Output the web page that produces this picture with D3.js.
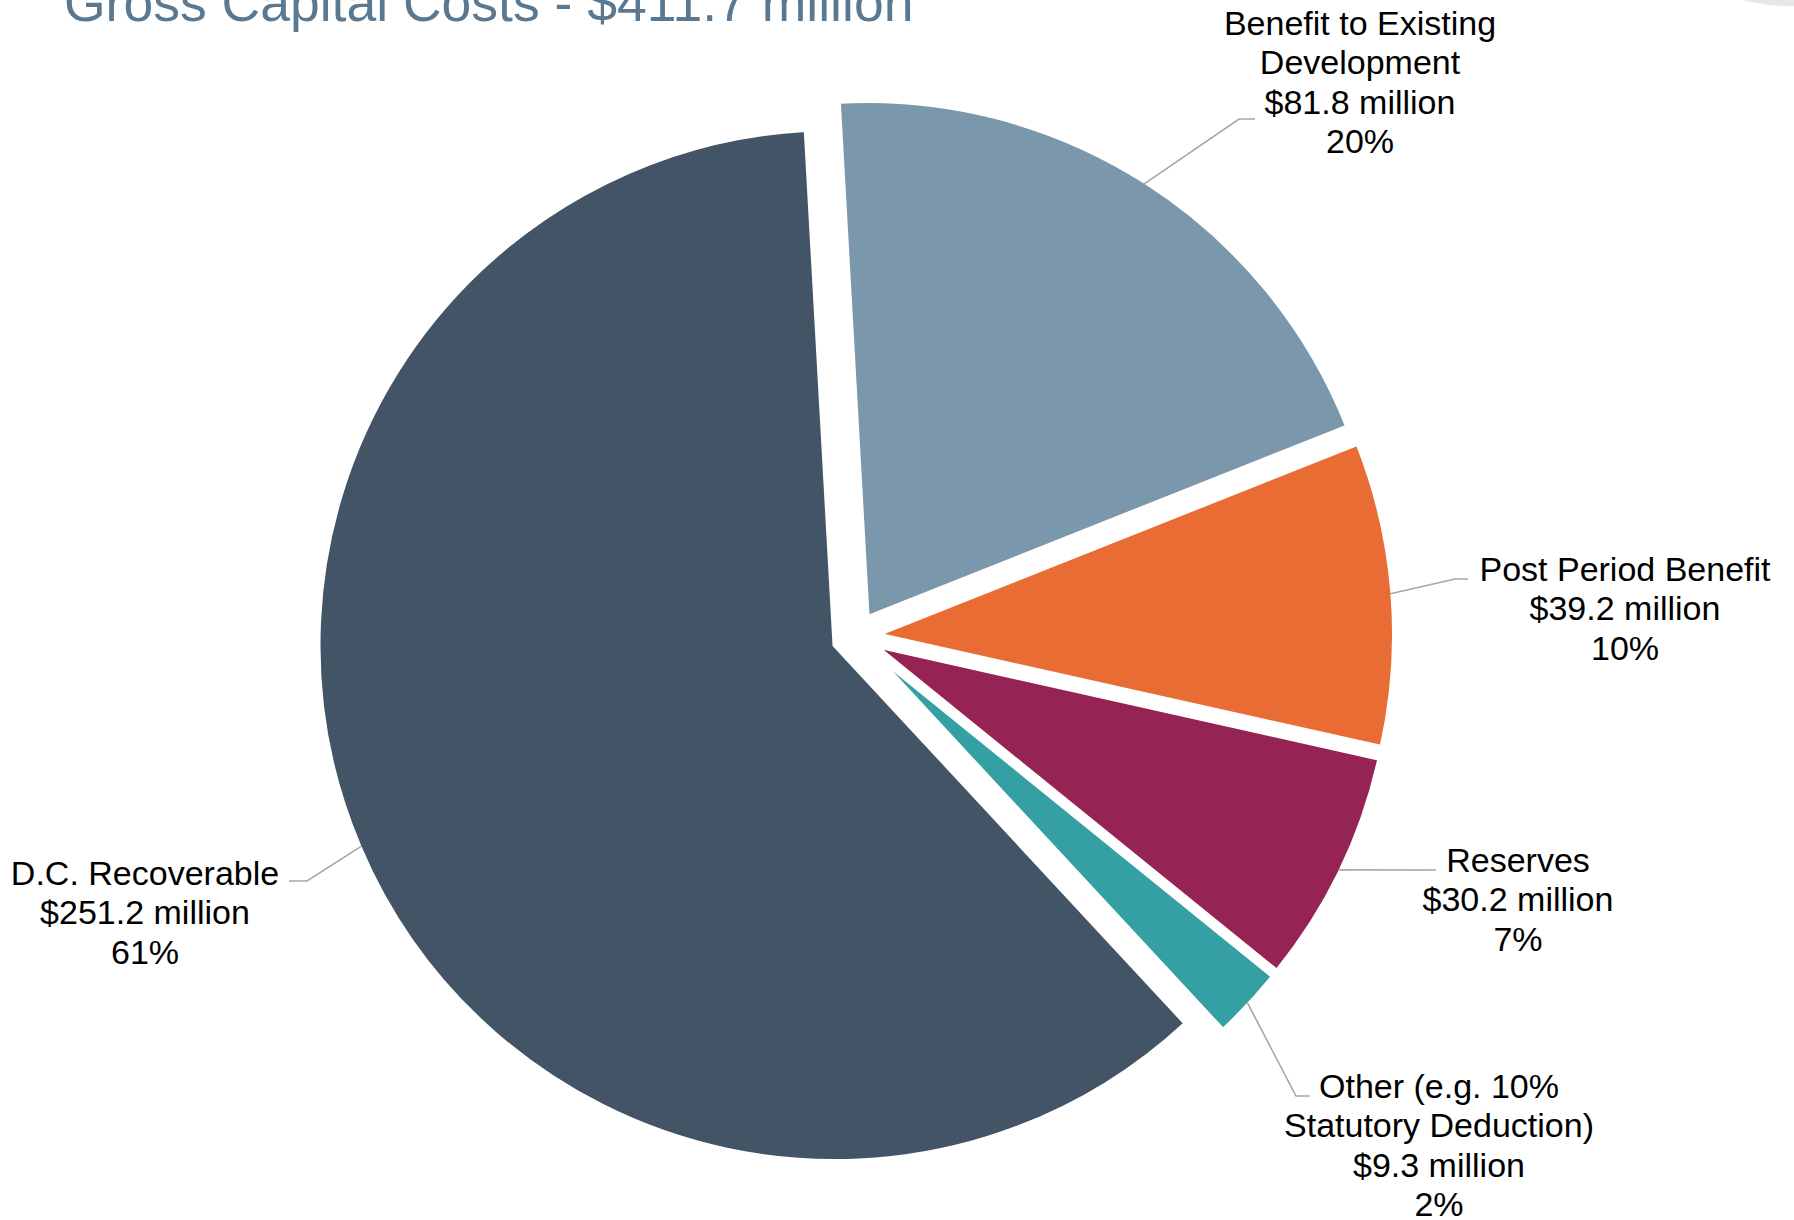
<!DOCTYPE html>
<html>
<head>
<meta charset="utf-8">
<script src="https://cdn.jsdelivr.net/npm/d3@7"></script>
<style>
  html, body { margin: 0; padding: 0; background: #ffffff; }
  svg { display: block; }
  text { font-family: "Liberation Sans", Arial, sans-serif; }
</style>
</head>
<body>
<svg id="chart" width="1794" height="1220"></svg>
<script>
// Capital cost breakdown, $ millions
const categories = [
  "Benefit to Existing\nDevelopment",
  "Post Period Benefit",
  "Reserves",
  "Other (e.g. 10%\nStatutory Deduction)",
  "D.C. Recoverable"
];
const values = [81.8, 39.2, 30.2, 9.3, 251.2];
const colors = ["#7b97ab", "#e96c34", "#952455", "#34a0a4", "#425466"];

// Label placement: centre x and first baseline, plus leader elbow / end points
const labelPos = [
  { x: 1360, y: 35 },
  { x: 1625, y: 581 },
  { x: 1518, y: 872 },
  { x: 1439, y: 1098 },
  { x: 145,  y: 885 }
];
const leaderPts = [
  [[1239, 119], [1255, 119]],
  [[1455, 579], [1468, 579]],
  [[1436, 870]],
  [[1296, 1096], [1310, 1096]],
  [[307, 881], [289, 881]]
];

const W = 1794, H = 1220;
const cx = 855.4, cy = 636.2;
const radius = 516;
const explode = 22.7;
const startDeg = -3.2;
const lineH = 39.3;

const svg = d3.select("#chart");

const total = d3.sum(values);
const fmt1 = d3.format(".1f");

// Title (partly above the top edge)
svg.append("text")
  .attr("x", 64)
  .attr("y", 21)
  .attr("font-size", 53.5)
  .attr("fill", "#5a7890")
  .text(`Gross Capital Costs - $${fmt1(total)} million`);

// Decorative disc in the top-right corner
svg.append("circle")
  .attr("cx", 1790).attr("cy", -189).attr("r", 195)
  .attr("fill", "#e7e7e7");

const data = values.map((v, i) => ({ name: categories[i], value: v, color: colors[i], i }));

const start = startDeg * Math.PI / 180;
const pie = d3.pie().sort(null).value(d => d.value)
  .startAngle(start).endAngle(start + 2 * Math.PI);
const arcs = pie(data);

const arc = d3.arc().innerRadius(0).outerRadius(radius);

// Each wedge is pushed out along its mid-angle
function offsetCenter(a) {
  const mid = (a.startAngle + a.endAngle) / 2;
  return [cx + explode * Math.sin(mid), cy - explode * Math.cos(mid)];
}

const gPie = svg.append("g");
gPie.selectAll("path")
  .data(arcs)
  .join("path")
  .attr("transform", a => `translate(${offsetCenter(a)})`)
  .attr("d", arc)
  .attr("fill", a => a.data.color)
  .attr("stroke", "#ffffff")
  .attr("stroke-width", 4)
  .attr("stroke-linejoin", "miter");

// Leader lines from the wedge rim to each label
const line = d3.line();
svg.append("g").selectAll("path")
  .data(arcs)
  .join("path")
  .attr("d", a => {
    const mid = (a.startAngle + a.endAngle) / 2;
    const [ox, oy] = offsetCenter(a);
    const r = radius - 2;
    const p0 = [ox + r * Math.sin(mid), oy - r * Math.cos(mid)];
    return line([p0, ...leaderPts[a.data.i]]);
  })
  .attr("fill", "none")
  .attr("stroke", "#a6a6a6")
  .attr("stroke-width", 1.6);

// Data labels: category, value, share
const gLab = svg.append("g");
arcs.forEach(a => {
  const d = a.data;
  const pos = labelPos[d.i];
  const lines = d.name.split("\n")
    .concat([`$${fmt1(d.value)} million`, `${Math.round(d.value / total * 100)}%`]);
  const t = gLab.append("text")
    .attr("text-anchor", "middle")
    .attr("font-size", 34)
    .attr("fill", "#000000");
  lines.forEach((s, k) => {
    t.append("tspan")
      .attr("x", pos.x)
      .attr("y", pos.y + k * lineH)
      .text(s);
  });
});
</script>
</body>
</html>
